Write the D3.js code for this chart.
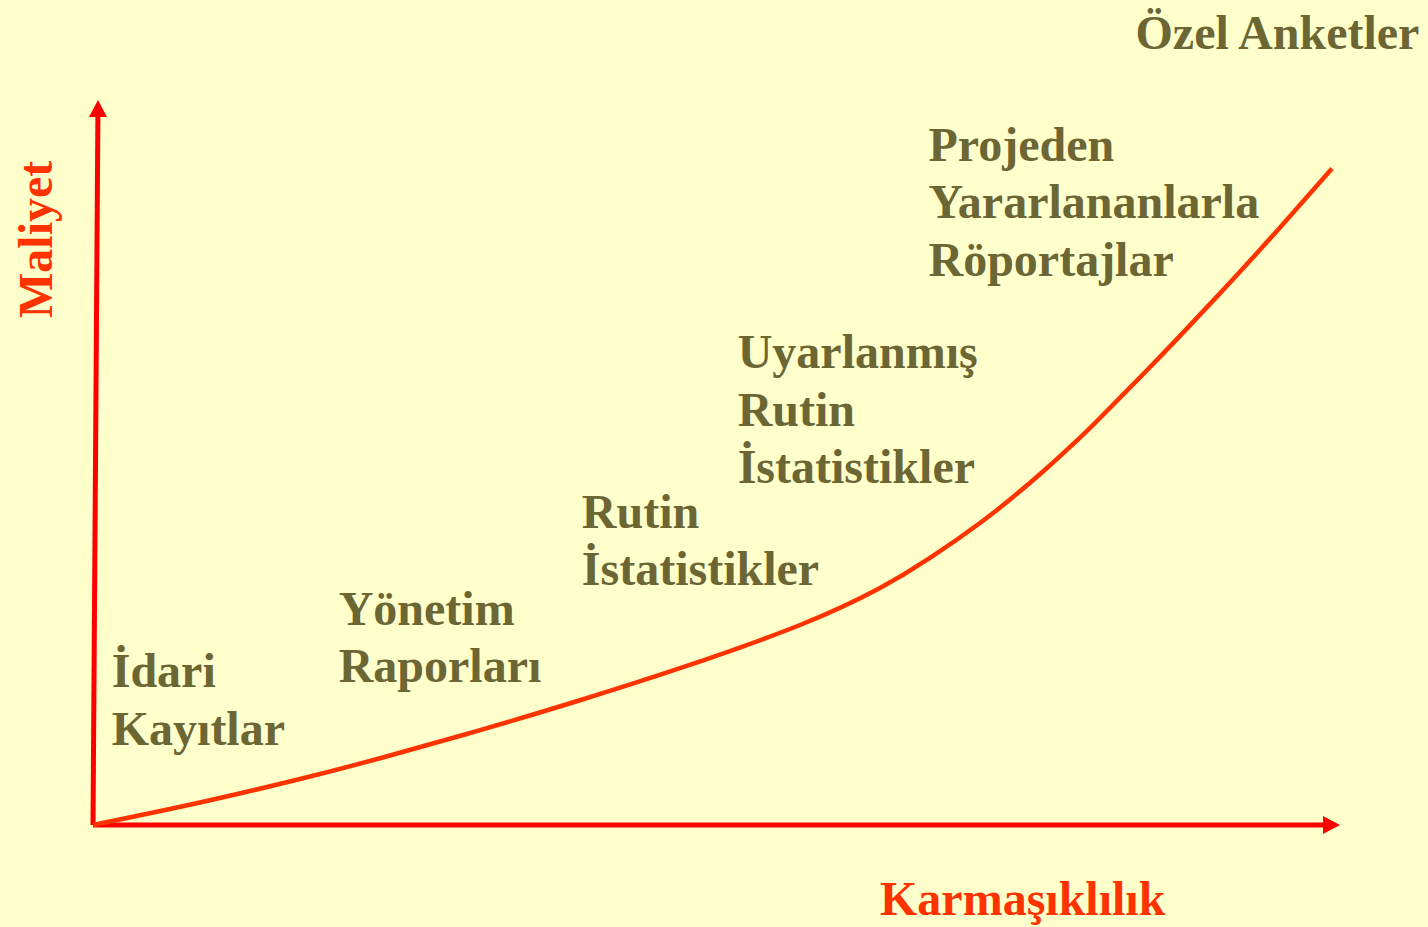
<!DOCTYPE html>
<html>
<head>
<meta charset="utf-8">
<script src="https://cdn.jsdelivr.net/npm/d3@7"></script>
<style>
  html, body { margin: 0; padding: 0; background: #FFFFCC; }
  svg { display: block; }
  text { font-family: "Liberation Serif", "Times New Roman", serif; font-weight: bold; }
</style>
</head>
<body>
<svg id="chart" width="1428" height="927"></svg>
<script>
// ---- Data (complexity 0-100 vs cost 0-100) ----
const complexity = [0, 8.58, 16.60, 23.02, 31.04, 39.05, 47.07, 56.70, 63.11, 67.12, 71.13, 73.78, 76.50, 79.15, 80.75, 84.52, 87.17, 91.18, 95.19, 99.36];
const cost       = [0, 3.10, 6.34, 9.21, 13.08, 17.21, 21.63, 27.59, 32.69, 36.83, 41.66, 45.24, 49.24, 53.43, 56.14, 62.72, 67.46, 74.83, 82.41, 90.54];

const labelText = [
  ["İdari", "Kayıtlar"],
  ["Yönetim", "Raporları"],
  ["Rutin", "İstatistikler"],
  ["Uyarlanmış", "Rutin", "İstatistikler"],
  ["Projeden", "Yararlananlarla", "Röportajlar"],
  ["Özel Anketler"]
];
const labelComplexity = [1.5, 19.7, 39.2, 51.7, 67.0, 83.6];
const labelCost       = [19.0, 27.6, 41.0, 63.0, 91.6, 107.0];

const xTitle = "Karmaşıklılık";
const yTitle = "Maliyet";

// ---- Scales ----
const svg = d3.select("#chart");
const x = d3.scaleLinear().domain([0, 100]).range([93, 1340]);
const y = d3.scaleLinear().domain([0, 100]).range([825, 100]);

const axisColor = "#FF0000";
const curveColor = "#FF3300";
const textColor = "#6B6633";

// background
svg.append("rect").attr("width", 1428).attr("height", 927).attr("fill", "#FFFFCC");

// ---- Axes with arrowheads ----
const arrowLen = 17, arrowHalf = 9;
// x axis
svg.append("line")
  .attr("x1", x(0)).attr("y1", y(0))
  .attr("x2", x(100) - arrowLen + 1).attr("y2", y(0))
  .attr("stroke", axisColor).attr("stroke-width", 5);
svg.append("path")
  .attr("d", d3.line()([[x(100), y(0)], [x(100) - arrowLen, y(0) - arrowHalf], [x(100) - arrowLen, y(0) + arrowHalf]]) + "Z")
  .attr("fill", axisColor);
// y axis (slightly leaning, as in the original)
const yTopX = x(0.4);
svg.append("line")
  .attr("x1", x(0)).attr("y1", y(0))
  .attr("x2", yTopX - 0.1).attr("y2", y(100) + arrowLen - 1)
  .attr("stroke", axisColor).attr("stroke-width", 5);
svg.append("path")
  .attr("d", d3.line()([[yTopX, y(100)], [yTopX - arrowHalf, y(100) + arrowLen], [yTopX + arrowHalf, y(100) + arrowLen]]) + "Z")
  .attr("fill", axisColor);

// ---- Curve ----
const pts = complexity.map((c, i) => [c, cost[i]]);
const line = d3.line().x(d => x(d[0])).y(d => y(d[1])).curve(d3.curveNatural);
svg.append("path")
  .attr("d", line(pts))
  .attr("fill", "none")
  .attr("stroke", curveColor)
  .attr("stroke-width", 4.5)
  .attr("stroke-linecap", "butt");

// ---- Labels ----
const lineHeight = 57.5;
labelText.forEach((lines, i) => {
  const t = svg.append("text")
    .attr("x", x(labelComplexity[i]))
    .attr("y", y(labelCost[i]))
    .attr("fill", textColor)
    .attr("font-size", 48);
  lines.forEach((s, j) => {
    t.append("tspan")
      .attr("x", x(labelComplexity[i]))
      .attr("dy", j === 0 ? 0 : lineHeight)
      .text(s);
  });
});

// ---- Axis titles ----
svg.append("text")
  .attr("x", 880).attr("y", 915)
  .attr("fill", curveColor).attr("font-size", 48)
  .text(xTitle);
svg.append("text")
  .attr("transform", "translate(52,318) rotate(-90)")
  .attr("fill", curveColor).attr("font-size", 48)
  .text(yTitle);
</script>
</body>
</html>
